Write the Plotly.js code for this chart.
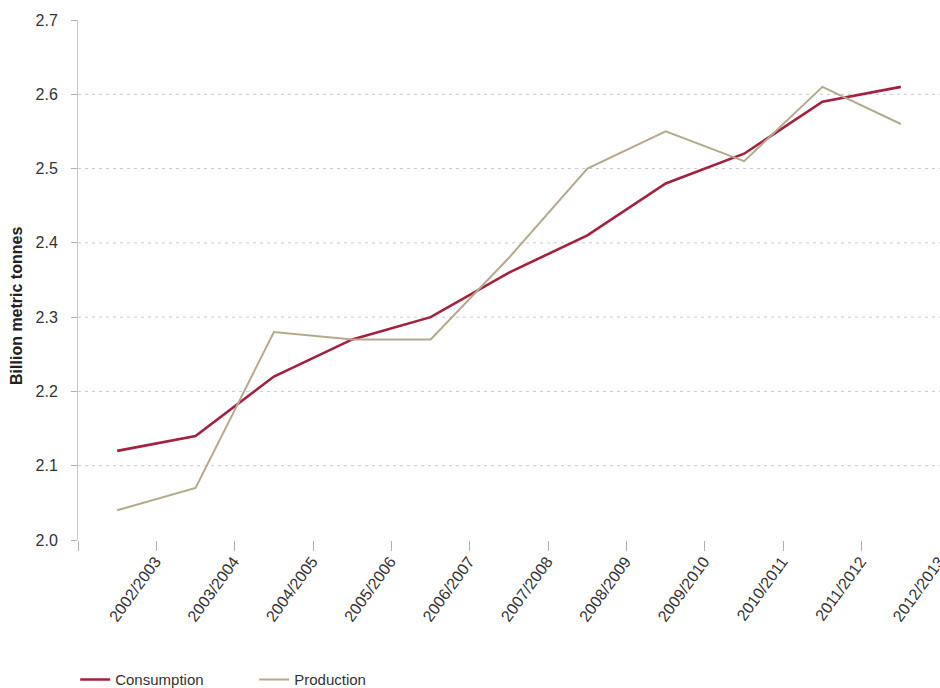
<!DOCTYPE html>
<html>
<head>
<meta charset="utf-8">
<script src="https://cdn.plot.ly/plotly-3.0.1.min.js"></script>
<style>html,body{margin:0;padding:0;background:#fff;}#chart{width:940px;height:688px;}</style>
</head>
<body>
<div id="chart"></div>
<script>
const seasons = ["2002/2003","2003/2004","2004/2005","2005/2006","2006/2007","2007/2008","2008/2009","2009/2010","2010/2011","2011/2012","2012/2013"];
const consumption = [2.12, 2.14, 2.22, 2.27, 2.30, 2.36, 2.41, 2.48, 2.52, 2.59, 2.61];
const production = [2.04, 2.07, 2.28, 2.27, 2.27, 2.38, 2.50, 2.55, 2.51, 2.61, 2.56];
const yTicks = [2.0, 2.1, 2.2, 2.3, 2.4, 2.5, 2.6, 2.7];
const gridVals = [2.1, 2.2, 2.3, 2.4, 2.5, 2.6];

const font = "Liberation Sans, Arial, sans-serif";

const traces = [
  {x: seasons, y: consumption, name: "Consumption", type: "scatter", mode: "lines",
   line: {color: "#a3203f", width: 2.6}},
  {x: seasons, y: production, name: "Production", type: "scatter", mode: "lines",
   line: {color: "#b3aa8c", width: 2}}
];

const shapes = gridVals.map(v => ({
  type: "line", xref: "paper", x0: 0, x1: 1, yref: "y", y0: v, y1: v,
  line: {color: "#c8c8c8", width: 1, dash: "3px,4px"}, layer: "below"
}));

const layout = {
  width: 940, height: 688,
  margin: {l: 78, r: 0, t: 20, b: 148},
  paper_bgcolor: "#fff", plot_bgcolor: "#fff",
  font: {family: font, color: "#333", size: 14},
  showlegend: true,
  legend: {orientation: "h", xref: "container", yref: "container",
           x: 0.080, xanchor: "left", y: 0.012, yanchor: "middle",
           font: {size: 15, color: "#333"}, entrywidth: 134, entrywidthmode: "pixels",
           bgcolor: "rgba(0,0,0,0)"},
  xaxis: {
    type: "category", range: [-0.5, 10.5],
    tickson: "boundaries", ticks: "outside", ticklen: 10, tickcolor: "#b0b0b0", tickwidth: 1,
    tickangle: -54, ticklabelshift: 38, ticklabelstandoff: 8,
    showgrid: false, showline: false, zeroline: false,
    tickfont: {size: 16, color: "#333"}, automargin: false
  },
  yaxis: {
    range: [2.0, 2.7], tickvals: yTicks, ticktext: yTicks.map(v => v.toFixed(1)),
    showgrid: false, zeroline: false,
    showline: true, linecolor: "#c8c8c8", linewidth: 1,
    ticks: "outside", ticklen: 6, tickcolor: "#b0b0b0",
    ticklabelstandoff: 10,
    tickfont: {size: 16, color: "#333"},
    automargin: false
  },
  annotations: [{
    text: "<b>Billion metric tonnes</b>", xref: "paper", yref: "paper",
    x: -0.072, y: 0.45, xanchor: "center", yanchor: "middle", textangle: -90,
    showarrow: false, font: {size: 16, color: "#222"}
  }],
  shapes: shapes
};

Plotly.newPlot("chart", traces, layout, {displayModeBar: false, staticPlot: true});
</script>
</body>
</html>
